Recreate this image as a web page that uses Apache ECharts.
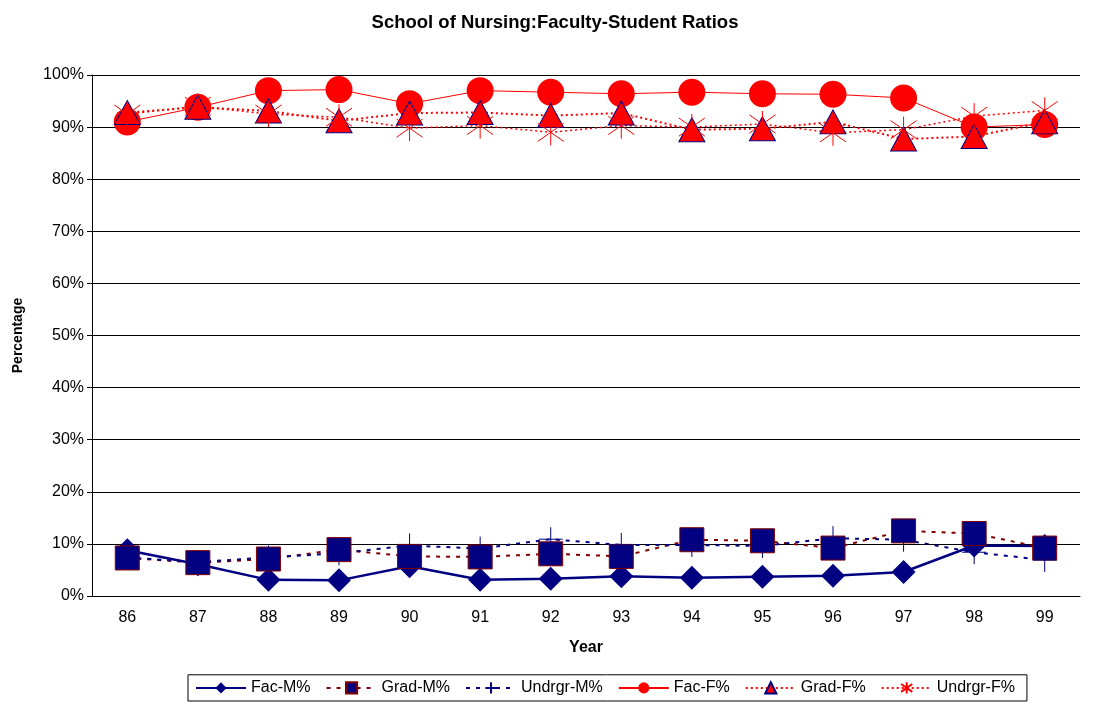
<!DOCTYPE html>
<html>
<head>
<meta charset="utf-8">
<title>School of Nursing</title>
<script src="https://cdn.jsdelivr.net/npm/echarts@6/dist/echarts.min.js"></script>
<style>
    html, body { margin: 0; padding: 0; background: #fff; }
    #chart { width: 1110px; height: 703px; }
</style>
</head>
<body>
<div id="chart"></div>
<script>
    // data (percent)
    var years = ['86', '87', '88', '89', '90', '91', '92', '93', '94', '95', '96', '97', '98', '99'];
    var facM = [8.8, 6.1, 3.1, 3.0, 5.7, 3.1, 3.3, 3.8, 3.5, 3.7, 3.9, 4.6, 9.7, 9.6];
    var gradM = [7.3, 6.4, 7.1, 8.9, 7.6, 7.5, 8.1, 7.6, 10.8, 10.6, 9.2, 12.5, 12.0, 9.2];
    var undrgrM = [7.4, 6.5, 7.4, 8.2, 9.7, 9.1, 10.9, 9.8, 9.8, 9.6, 11.1, 10.8, 8.4, 6.9];
    var facF = [91.0, 93.8, 97.0, 97.2, 94.5, 97.0, 96.7, 96.4, 96.7, 96.4, 96.3, 95.6, 90.0, 90.5];
    var gradF = [92.8, 93.8, 93.1, 91.2, 92.7, 92.8, 92.2, 92.7, 89.5, 89.7, 91.0, 87.7, 88.2, 91.0];
    var undrgrF = [92.5, 94.0, 92.5, 91.9, 89.8, 90.3, 89.0, 90.3, 90.0, 90.6, 88.9, 89.5, 92.1, 93.2];
    var yTicks = [0, 10, 20, 30, 40, 50, 60, 70, 80, 90, 100];

    var navy = '#000080';
    var red = '#ff0000';
    var darkRed = '#800000';
    var plusPath = 'path://M10 0 L10 20 M0 10 L20 10';
    var starPath = 'path://M10 0 L10 20 M0 3 L20 17 M0 17 L20 3';

    var myChart = echarts.init(document.getElementById('chart'));
    var option = {
        backgroundColor: '#fff',
        animation: false,
        textStyle: {fontFamily: 'Liberation Sans, Arial, sans-serif'},
        title: {
            text: 'School of Nursing:Faculty-Student Ratios',
            left: 'center',
            top: 8,
            textStyle: {fontSize: 18.5, fontWeight: 'bold', color: '#000'}
        },
        legend: {
            bottom: 2,
            left: 188,
            itemWidth: 50,
            itemHeight: 14,
            itemGap: 15,
            padding: [5, 12, 5, 7],
            borderColor: '#000',
            borderWidth: 1,
            textStyle: {fontSize: 16, color: '#000'},
            data: ['Fac-M%', 'Grad-M%', 'Undrgr-M%', 'Fac-F%', 'Grad-F%', 'Undrgr-F%']
        },
        grid: {left: 92, right: 30, top: 75, bottom: 107},
        xAxis: {
            type: 'category',
            data: years,
            name: 'Year',
            nameLocation: 'middle',
            nameGap: 44,
            nameTextStyle: {fontSize: 16, fontWeight: 'bold', color: '#000'},
            axisLine: {lineStyle: {color: '#000', width: 1}},
            axisTick: {length: 5, lineStyle: {color: '#000'}},
            axisLabel: {fontSize: 16, color: '#000', margin: 14}
        },
        yAxis: {
            type: 'value',
            min: 0,
            max: 100,
            interval: 10,
            name: 'Percentage',
            nameLocation: 'middle',
            nameRotate: 90,
            nameGap: 67,
            nameTextStyle: {fontSize: 14, fontWeight: 'bold', color: '#000'},
            axisLine: {show: true, lineStyle: {color: '#000', width: 1}},
            axisTick: {show: true, length: 5, lineStyle: {color: '#000'}},
            axisLabel: {fontSize: 16, color: '#000', margin: 8, formatter: function (v) {
                return yTicks.indexOf(v) >= 0 ? v + '%' : '';
            }},
            splitLine: {lineStyle: {color: '#000', width: 1}}
        },
        series: [
            {
                name: 'Fac-M%', type: 'line', data: facM,
                symbol: 'diamond', symbolSize: 24, showAllSymbol: true,
                lineStyle: {color: navy, width: 2.5},
                itemStyle: {color: navy}
            },
            {
                name: 'Grad-M%', type: 'line', data: gradM,
                symbol: 'rect', symbolSize: 24, showAllSymbol: true,
                lineStyle: {color: darkRed, width: 2, type: [4, 6]},
                itemStyle: {color: navy, borderColor: darkRed, borderWidth: 1}
            },
            {
                name: 'Undrgr-M%', type: 'line', data: undrgrM,
                symbol: plusPath, symbolSize: 24, showAllSymbol: true,
                lineStyle: {color: navy, width: 2, type: [4, 6]},
                itemStyle: {color: 'none', borderColor: navy, borderWidth: 1}
            },
            {
                name: 'Fac-F%', type: 'line', data: facF,
                symbol: 'circle', symbolSize: 27, showAllSymbol: true,
                lineStyle: {color: red, width: 1},
                itemStyle: {color: red}
            },
            {
                name: 'Grad-F%', type: 'line', data: gradF,
                symbol: 'triangle', symbolSize: [26, 24], showAllSymbol: true,
                lineStyle: {color: red, width: 2, type: [2, 3]},
                itemStyle: {color: red, borderColor: navy, borderWidth: 1}
            },
            {
                name: 'Undrgr-F%', type: 'line', data: undrgrF,
                symbol: starPath, symbolSize: 26, showAllSymbol: true,
                lineStyle: {color: red, width: 1.5, type: [2, 3]},
                itemStyle: {color: 'none', borderColor: red, borderWidth: 1}
            }
        ]
    };
    myChart.setOption(option);
</script>
</body>
</html>
